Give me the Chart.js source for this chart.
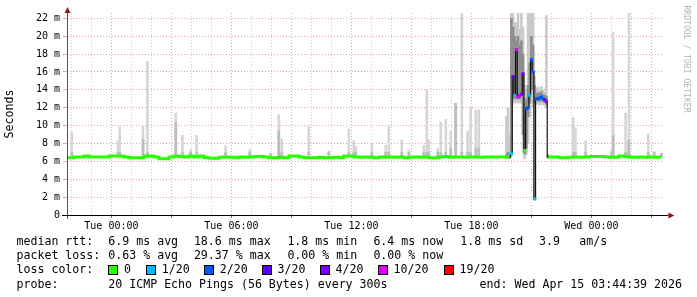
<!DOCTYPE html>
<html>
<head>
<meta charset="utf-8">
<script src="https://cdn.jsdelivr.net/npm/chart.js@4.4.1/dist/chart.umd.min.js"></script>
<style>
html, body { margin: 0; padding: 0; background: #fff; }
#wrap { position: relative; width: 697px; height: 297px; overflow: hidden; }
#chart { position: absolute; left: 0; top: 0; }
.txt { position: absolute; font: 11.6px "DejaVu Sans Mono", monospace; line-height: 14px; color: #000; white-space: pre; }
.sw { position: absolute; width: 8px; height: 8px; border: 1px solid #000; }
</style>
</head>
<body>
<div id="wrap"><canvas id="chart" width="697" height="297"></canvas></div>
<script>
// x axis is hours counted from Tue 00:00
const dayHours = [0, 6, 12, 18, 24];
const dayLabels = ['Tue 00:00', 'Tue 06:00', 'Tue 12:00', 'Tue 18:00', 'Wed 00:00'];

// median rtt (ms), 15 min steps before the outage
const earlyStart = -2.25, earlyStep = 0.25;
const earlyMedian = [6.4, 6.4, 6.5, 6.5, 6.6, 6.5, 6.5, 6.5, 6.5,
  6.6, 6.6, 6.6, 6.5, 6.4, 6.4, 6.4, 6.6,
  6.6, 6.5, 6.3, 6.3, 6.5, 6.6, 6.55, 6.5,
  6.6, 6.5, 6.6, 6.4, 6.35, 6.35, 6.45, 6.5,
  6.45, 6.4, 6.5, 6.45, 6.5, 6.55, 6.55, 6.5,
  6.4, 6.4, 6.45, 6.4, 6.6, 6.6, 6.5, 6.4,
  6.4, 6.4, 6.45, 6.4, 6.4, 6.45, 6.4, 6.6,
  6.6, 6.5, 6.45, 6.5, 6.45, 6.4, 6.5, 6.45,
  6.5, 6.45, 6.5, 6.4, 6.45, 6.5, 6.45, 6.5,
  6.4, 6.4, 6.5, 6.55, 6.45, 6.5, 6.5, 6.45,
  6.5, 6.5, 6.45, 6.5, 6.5, 6.5, 6.5];

// the bad stretch, 5 min steps
const burstStart = 19.75, burstStep = 1 / 12;
const burstMedian = [6.5, 6.5, 6.5, 6.9, 15.5, 13.4, 18.5, 13.2, 13.4, 13.5, 15.8, 7.2, 11.9,
  12.0, 13.4, 17.4, 16.0, 1.8, 13.0, 13.0, 13.1, 13.2, 13.0, 12.9, 12.7, 6.5];
const burstLoss = [0, 0, 0, 1, 3, 1, 10, 10, 10, 4, 4, 0, 2, 2, 1, 2, 2, 1, 2, 2, 2, 2, 2, 3, 4, 0];
const burstMin = [6.3, 6.3, 6.3, 6.6, 12.6, 12.5, 12.6, 12.5, 12.6, 12.5, 7.0, 6.3, 6.8,
  8.0, 11.0, 12.5, 12.0, 1.7, 12.4, 12.4, 12.3, 12.5, 12.3, 12.3, 12.0, 6.3];
const burstMax = [11.0, 12.0, 9.0, 22.6, 22.6, 21.5, 21.5, 22.6, 20.8, 22.6, 21.0, 14.5, 14.0,
  22.6, 22.6, 22.6, 22.6, 15.5, 14.2, 14.3, 14.0, 14.4, 14.0, 13.8, 22.3, 6.8];
const burstLo = [6.4, 6.4, 6.4, 6.9, 13.0, 13.0, 13.2, 13.0, 13.0, 13.2, 9.0, 6.8, 7.5,
  11.0, 12.5, 14.0, 14.0, 12.5, 12.8, 12.8, 12.7, 12.9, 12.7, 12.6, 12.4, 6.4];
const burstHi = [6.7, 7.0, 6.7, 22.0, 21.0, 20.0, 19.5, 20.0, 19.0, 19.5, 18.0, 12.5, 13.0,
  14.5, 17.0, 20.0, 19.0, 14.5, 13.6, 13.7, 13.6, 13.8, 13.5, 13.4, 13.3, 6.7];

// after the outage, 15 min steps
const lateStart = 22, lateStep = 0.25;
const lateMedian = [6.5, 6.5, 6.4, 6.4, 6.45, 6.5, 6.45, 6.5, 6.55, 6.55, 6.55, 6.5,
  6.45, 6.45, 6.6, 6.55, 6.45, 6.45, 6.5, 6.45, 6.5, 6.45, 6.5];

// single smoke spikes in the quiet parts (hour, max ms, darker part up to)
const spikeHours = [-1.98, 0.33, 0.42, 1.58, 1.8, 3.22, 3.55, 3.96, 4.26, 5.71, 6.92, 7.97,
  8.37, 8.52, 9.87, 10.87, 11.87, 12.12, 12.22, 13.02, 13.72, 13.87, 14.52, 14.87, 15.62,
  15.77, 15.87, 16.32, 16.47, 16.72, 16.97, 17.21, 17.52, 17.81, 17.96, 18.22, 18.37,
  23.09, 23.2, 23.71, 25.01, 25.09, 25.71, 25.79, 25.88, 26.84, 27.14, 27.51];
const spikeMax = [9.3, 8.3, 9.9, 9.9, 17.2, 11.4, 8.9, 7.3, 8.9, 7.7, 7.3, 6.9,
  11.2, 8.5, 9.9, 7.2, 9.6, 8.3, 7.7, 8.0, 7.8, 9.9, 8.4, 7.3, 7.8,
  14.0, 8.4, 7.4, 10.4, 10.7, 9.4, 12.5, 22.6, 9.4, 12.1, 11.7, 11.8,
  10.9, 9.75, 8.3, 7.2, 20.4, 11.4, 8.3, 22.6, 9.05, 7.1, 6.9];
const spikeMid = [7.0, 7.0, 7.0, 8.5, 7.0, 10.3, 7.0, 7.0, 7.0, 7.0, 7.0, 6.9,
  9.4, 7.0, 7.0, 7.0, 7.0, 7.0, 7.0, 7.0, 7.0, 7.0, 7.0, 7.0, 7.0,
  7.0, 7.0, 7.0, 7.0, 7.0, 7.5, 12.5, 7.0, 7.0, 7.0, 7.5, 7.5,
  7.0, 7.0, 7.0, 7.0, 8.9, 7.0, 7.0, 8.4, 7.0, 7.0, 6.9];

const lossSteps = [0, 1, 2, 3, 4, 10, 19];
const lossLabels = ['0', '1/20', '2/20', '3/20', '4/20', '10/20', '19/20'];
const lossColors = ['#26ff00', '#00b8ff', '#0059ff', '#5e00ff', '#7e00ff', '#dd00ff', '#ff0000'];

const rttStats = ['6.9 ms avg', '18.6 ms max', '1.8 ms min', '6.4 ms now', '1.8 ms sd', '3.9', 'am/s'];
const lossStats = ['0.63 % avg', '29.37 % max', '0.00 % min', '0.00 % now'];
const probeText = '20 ICMP Echo Pings (56 Bytes) every 300s';
const endText = 'end: Wed Apr 15 03:44:39 2026';

function lossColor(l) {
  let c = lossColors[0];
  lossSteps.forEach((s, i) => { if (l >= s) c = lossColors[i]; });
  return c;
}

// put all median samples together
const medianPts = [];
earlyMedian.forEach((v, i) => medianPts.push({ x: earlyStart + i * earlyStep, y: v, loss: 0 }));
burstMedian.forEach((v, i) => medianPts.push({ x: burstStart + i * burstStep, y: v, loss: burstLoss[i] }));
lateMedian.forEach((v, i) => medianPts.push({ x: lateStart + i * lateStep, y: v, loss: 0 }));

const greenData = medianPts.map(p => ({ x: p.x, y: p.loss === 0 ? p.y : null }));
const blackData = burstMedian.map((v, i) => ({ x: burstStart + i * burstStep, y: v })).slice(2);
const markData = burstMedian.map((v, i) => ({ x: burstStart + i * burstStep, y: v }))
  .filter((p, i) => burstLoss[i] > 0 || (i > 2 && i < 25));
const markColors = burstLoss.filter((l, i) => l > 0 || (i > 2 && i < 25)).map(lossColor);

const outerSmoke = burstMin.map((v, i) => ({ x: burstStart + i * burstStep, y: [v, burstMax[i]] }));
const innerSmoke = burstLo.map((v, i) => ({ x: burstStart + i * burstStep, y: [v, burstHi[i]] }));
const spikeLight = spikeHours.map((h, i) => ({ x: h, y: [6.5, spikeMax[i]] }));
const spikeDark = spikeHours.map((h, i) => ({ x: h, y: [6.5, spikeMid[i]] }));

const MONO = '"DejaVu Sans Mono", monospace';

// axes, arrows and side texts
const framePlugin = {
  id: 'frame',
  afterDraw(chart) {
    const ctx = chart.ctx;
    const a = chart.chartArea;
    ctx.save();
    ctx.lineWidth = 1;
    ctx.strokeStyle = '#555';
    ctx.beginPath();
    ctx.moveTo(a.left + 0.5, a.bottom + 4);
    ctx.lineTo(a.left + 0.5, a.top - 2);
    ctx.stroke();
    ctx.strokeStyle = '#000';
    ctx.beginPath();
    ctx.moveTo(a.left - 5, a.bottom + 0.5);
    ctx.lineTo(a.right + 5, a.bottom + 0.5);
    ctx.stroke();
    ctx.fillStyle = '#8b1a1a';
    ctx.beginPath();
    ctx.moveTo(a.left + 0.5, a.top - 6);
    ctx.lineTo(a.left - 2.5, a.top);
    ctx.lineTo(a.left + 3.5, a.top);
    ctx.closePath();
    ctx.fill();
    ctx.beginPath();
    ctx.moveTo(a.right + 11, a.bottom + 0.5);
    ctx.lineTo(a.right + 5, a.bottom - 2.5);
    ctx.lineTo(a.right + 5, a.bottom + 3.5);
    ctx.closePath();
    ctx.fill();

    ctx.fillStyle = '#000';
    ctx.font = '11.6px ' + MONO;
    ctx.textAlign = 'center';
    ctx.textBaseline = 'middle';
    ctx.translate(10, (a.top + a.bottom) / 2);
    ctx.rotate(-Math.PI / 2);
    ctx.fillText('Seconds', 0, 0);
    ctx.restore();

    ctx.save();
    ctx.fillStyle = '#b4b4b4';
    ctx.font = '8.1px ' + MONO;
    ctx.textAlign = 'center';
    ctx.textBaseline = 'middle';
    ctx.translate(686, 59);
    ctx.rotate(Math.PI / 2);
    ctx.fillText('RRDTOOL / TOBI OETIKER', 0, 0);
    ctx.restore();
  }
};

const bar = (data, color, order) => ({
  type: 'bar', data: data, backgroundColor: color, borderWidth: 0,
  barThickness: 2, grouped: false, order: order
});

new Chart(document.getElementById('chart'), {
  type: 'line',
  data: {
    datasets: [
      { type: 'scatter', data: markData, showLine: false, pointStyle: 'rect', pointRadius: 2.2,
        pointBackgroundColor: markColors, pointBorderWidth: 0, order: 0 },
      { data: blackData, borderColor: '#111', borderWidth: 1.2, stepped: 'middle', pointRadius: 0, order: 1 },
      { data: greenData, borderColor: lossColors[0], borderWidth: 3, stepped: 'middle', pointRadius: 0,
        spanGaps: false, borderCapStyle: 'butt', order: 2 },
      bar(innerSmoke, '#8e8e8e', 3),
      bar(outerSmoke, '#cacaca', 4),
      bar(spikeDark, '#bdbdbd', 5),
      bar(spikeLight, '#d6d6d6', 6)
    ]
  },
  options: {
    responsive: false,
    animation: false,
    devicePixelRatio: 1,
    layout: { padding: { top: 13, right: 33.6, left: 0, bottom: 0 } },
    plugins: { legend: { display: false }, tooltip: { enabled: false } },
    scales: {
      x: {
        type: 'linear', min: -2.22, max: 27.6, offset: false,
        afterFit: s => { s.height = 82; },
        afterBuildTicks: s => {
          const t = [];
          for (let h = -2; h <= 27; h++) t.push({ value: h });
          s.ticks = t;
        },
        ticks: {
          autoSkip: false, maxRotation: 0, padding: 2, color: '#000',
          font: { family: MONO, size: 10 },
          callback: v => { const k = dayHours.indexOf(v); return k >= 0 ? dayLabels[k] : ''; }
        },
        grid: {
          offset: false,
          color: c => (c.tick && c.tick.value % 3 === 0) ? '#e4a4a4' : '#cdcdcd',
          tickColor: c => (c.tick && c.tick.value % 3 === 0) ? '#777' : 'rgba(0,0,0,0)',
          tickLength: 3
        },
        border: { display: false, dash: [1, 2] }
      },
      y: {
        min: 0, max: 22.6,
        afterFit: s => { s.width = 67; },
        afterBuildTicks: s => {
          const t = [];
          for (let v = 0; v <= 22; v++) t.push({ value: v });
          s.ticks = t;
        },
        ticks: {
          padding: 3, color: '#000',
          font: { family: MONO, size: 10 },
          callback: v => v % 2 === 0 ? (v === 0 ? '0' : v + ' m') : ''
        },
        grid: {
          color: c => (c.tick && c.tick.value % 2 === 0) ? '#e4a4a4' : '#cdcdcd',
          tickColor: c => (c.tick && c.tick.value % 2 === 0) ? '#e4a4a4' : 'rgba(0,0,0,0)',
          tickLength: 4
        },
        border: { display: false, dash: [1, 2] }
      }
    }
  },
  plugins: [framePlugin]
});

// text legend under the graph
const wrap = document.getElementById('wrap');
function put(text, x, top, right) {
  const d = document.createElement('div');
  d.className = 'txt';
  d.textContent = text;
  d.style.top = top + 'px';
  if (right) d.style.right = (697 - x) + 'px'; else d.style.left = x + 'px';
  wrap.appendChild(d);
}
const statCols = [108.3, 193.9, 287.4, 373.4, 460.3, 539, 579.3];
put('median rtt:', 16.5, 234);
rttStats.forEach((s, i) => put(s, statCols[i], 234));
put('packet loss:', 16.5, 248);
lossStats.forEach((s, i) => put(s, statCols[i], 248));
put('loss color:', 16.5, 262);
const swatchCols = [108.3, 146.2, 204.1, 262, 320, 377.9, 443.9];
lossLabels.forEach((l, i) => {
  const sq = document.createElement('div');
  sq.className = 'sw';
  sq.style.left = swatchCols[i] + 'px';
  sq.style.top = '264.5px';
  sq.style.background = lossColors[i];
  wrap.appendChild(sq);
  put(l, swatchCols[i] + 15.6, 262);
});
put('probe:', 16.5, 277);
put(probeText, 108.3, 277);
put(endText, 682, 277, true);
</script>
</body>
</html>
